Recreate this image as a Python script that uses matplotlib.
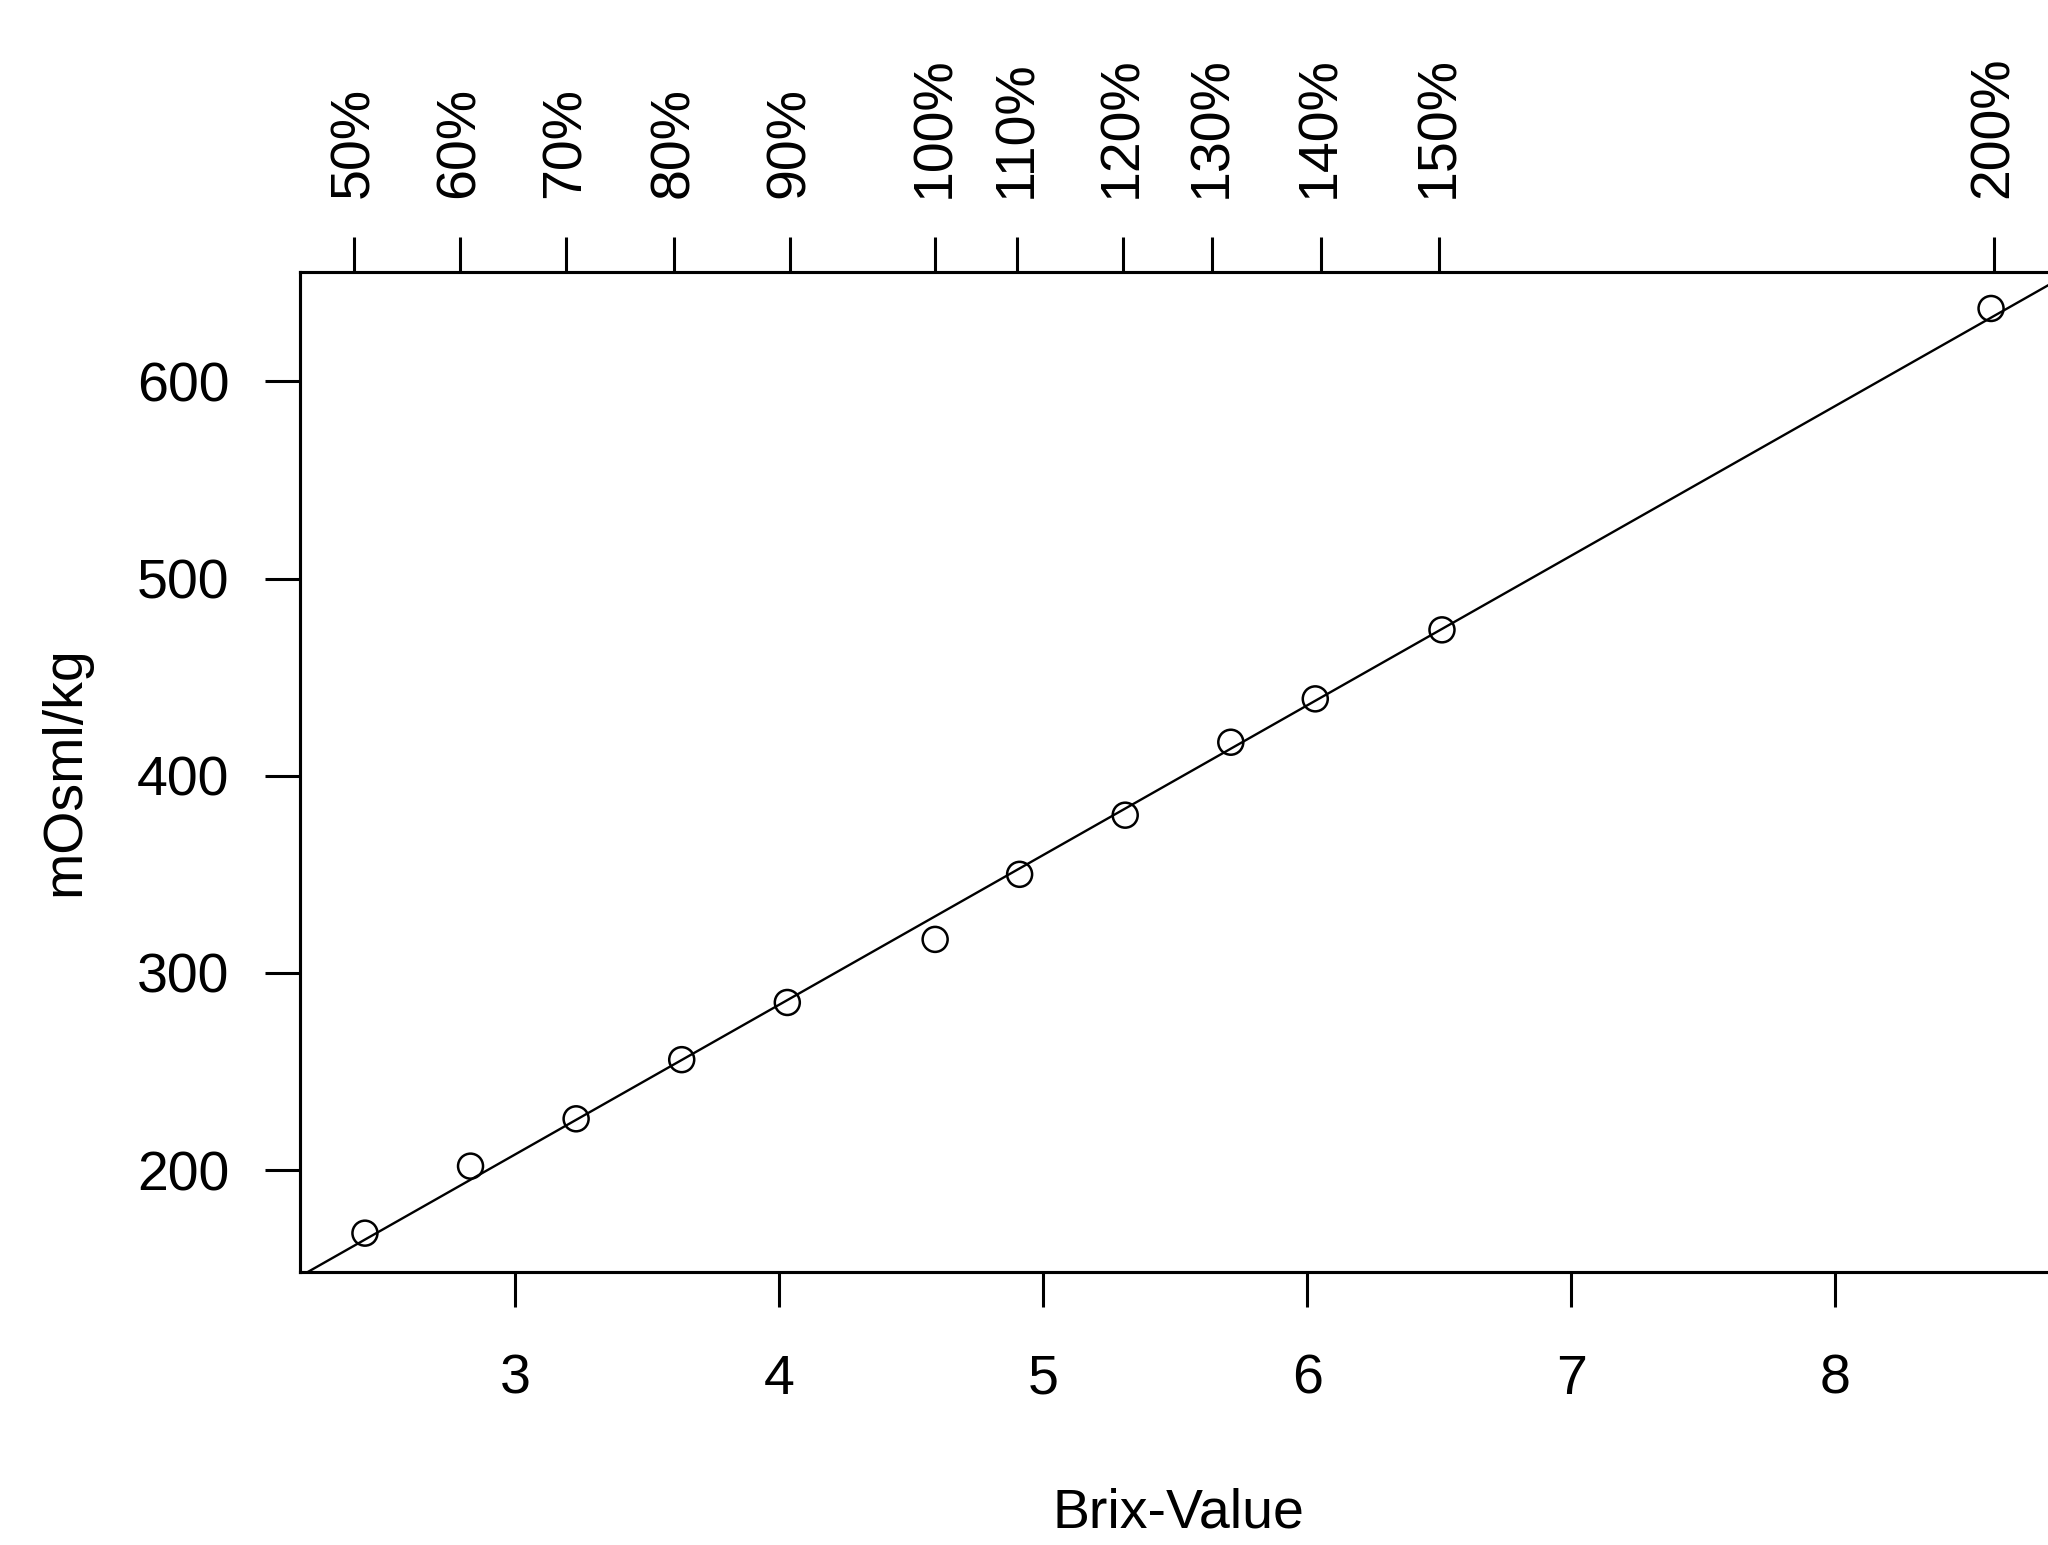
import numpy as np
import matplotlib
matplotlib.use('Agg')
import matplotlib.pyplot as plt

plt.rcParams['font.family'] = ['Liberation Sans', 'DejaVu Sans']

# measured points
brix = [2.43, 2.83, 3.23, 3.63, 4.03, 4.59, 4.91, 5.31, 5.71, 6.03, 6.51, 8.59]
mosm = [168, 202, 226, 256, 285, 317, 350, 380, 417, 439, 474, 637]

# top axis: concentration labels
conc_pos = [2.39, 2.79, 3.19, 3.60, 4.04, 4.59, 4.90, 5.30, 5.64, 6.05, 6.50, 8.60]
conc_labels = ['50%', '60%', '70%', '80%', '90%', '100%', '110%', '120%',
               '130%', '140%', '150%', '200%']

x_ticks = [3, 4, 5, 6, 7, 8]
y_ticks = [200, 300, 400, 500, 600]

fig = plt.figure(figsize=(20.48, 15.45), dpi=100)
ax = fig.add_axes([300 / 2048, (1545 - 1272) / 1545, 1756 / 2048, 1000 / 1545])

ax.scatter(brix, mosm, s=18 ** 2, facecolors='none', edgecolors='black', linewidths=1.8, zorder=3)

# linear fit
slope, intercept = np.polyfit(brix, mosm, 1)
xl = (2.184, 8.836)
xs = np.array(xl)
ax.plot(xs, slope * xs + intercept, color='black', linewidth=1.7)

ax.set_xlim(*xl)
ax.set_ylim(148.3, 655.5)
ax.set_xticks(x_ticks)
ax.set_yticks(y_ticks)
ax.tick_params(axis='both', direction='out', length=25, width=2.2, labelsize=40, colors='black')
ax.tick_params(axis='x', pad=34)
ax.tick_params(axis='y', pad=26)
for s in ax.spines.values():
    s.set_linewidth(2.2)

ax.set_xlabel('Brix-Value', fontsize=40)
ax.xaxis.set_label_coords((1178 - 300) / 1756, -(1488 - 1272) / 1000)
ax.set_ylabel('mOsml/kg', fontsize=40)
ax.yaxis.set_label_coords(-(300 - 91) / 1756, (1272 - 771) / 1000)

ax2 = ax.twiny()
ax2.set_xlim(*xl)
ax2.set_xticks(conc_pos)
ax2.set_xticklabels(conc_labels, rotation=90, fontsize=40)
ax2.tick_params(axis='x', direction='out', length=25, width=2.2, pad=28)
for s in ax2.spines.values():
    s.set_linewidth(2.2)

fig.savefig('out.png', dpi=100, facecolor='white')
